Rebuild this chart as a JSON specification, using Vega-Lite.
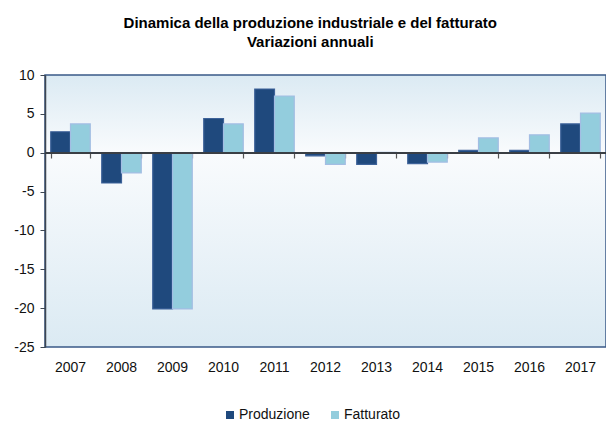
{
  "$schema": "https://vega.github.io/schema/vega-lite/v6.json",
  "width": 561,
  "height": 272,
  "autosize": {"type": "none"},
  "padding": {"left": 45, "top": 75, "right": 0, "bottom": 76},
  "background": "white",
  "title": {
    "text": ["Dinamica della produzione industriale e del fatturato", "Variazioni annuali"],
    "font": "Liberation Sans",
    "fontSize": 15,
    "fontWeight": "bold",
    "color": "#000000",
    "anchor": "middle",
    "frame": "bounds",
    "lineHeight": 19,
    "offset": 18
  },
  "config": {
    "font": "Liberation Sans",
    "axis": {"labelOverlap": false},
    "axisY": {"labelOverlap": false, "labelFlush": false},
    "view": {
      "stroke": "#3a5a88",
      "strokeWidth": 1.5,
      "fill": {
        "gradient": "linear",
        "x1": 0, "y1": 0, "x2": 0, "y2": 1,
        "stops": [
          {"offset": 0, "color": "#dbeaf3"},
          {"offset": 0.287, "color": "#f9fbfd"},
          {"offset": 1, "color": "#dbeaf3"}
        ]
      }
    }
  },
  "data": {
    "values": [
      {"anno": "2007", "serie": "Produzione", "valore": 2.7},
      {"anno": "2007", "serie": "Fatturato", "valore": 3.7},
      {"anno": "2008", "serie": "Produzione", "valore": -3.9},
      {"anno": "2008", "serie": "Fatturato", "valore": -2.6},
      {"anno": "2009", "serie": "Produzione", "valore": -20.1},
      {"anno": "2009", "serie": "Fatturato", "valore": -20.1},
      {"anno": "2010", "serie": "Produzione", "valore": 4.4},
      {"anno": "2010", "serie": "Fatturato", "valore": 3.7},
      {"anno": "2011", "serie": "Produzione", "valore": 8.2},
      {"anno": "2011", "serie": "Fatturato", "valore": 7.3},
      {"anno": "2012", "serie": "Produzione", "valore": -0.4},
      {"anno": "2012", "serie": "Fatturato", "valore": -1.5},
      {"anno": "2013", "serie": "Produzione", "valore": -1.5},
      {"anno": "2013", "serie": "Fatturato", "valore": 0.05},
      {"anno": "2014", "serie": "Produzione", "valore": -1.4},
      {"anno": "2014", "serie": "Fatturato", "valore": -1.2},
      {"anno": "2015", "serie": "Produzione", "valore": 0.3},
      {"anno": "2015", "serie": "Fatturato", "valore": 1.9},
      {"anno": "2016", "serie": "Produzione", "valore": 0.3},
      {"anno": "2016", "serie": "Fatturato", "valore": 2.3},
      {"anno": "2017", "serie": "Produzione", "valore": 3.7},
      {"anno": "2017", "serie": "Fatturato", "valore": 5.1}
    ]
  },
  "resolve": {"axis": {"x": "independent"}},
  "layer": [
    {
      "mark": {"type": "bar", "strokeWidth": 1.2},
      "encoding": {
        "x": {
          "field": "anno", "type": "ordinal",
          "scale": {"paddingInner": 0.225, "paddingOuter": 0.1125},
          "axis": {
            "title": null, "orient": "bottom", "domain": false, "ticks": false,
            "labelAngle": 0, "labelFontSize": 14, "labelColor": "#111111",
            "labelPadding": 13
          }
        },
        "xOffset": {"field": "serie", "type": "nominal", "sort": ["Produzione", "Fatturato"]},
        "y": {
          "field": "valore", "type": "quantitative",
          "scale": {"domain": [-25, 10], "nice": false},
          "axis": {
            "title": null, "values": [-25, -20, -15, -10, -5, 0, 5, 10],
            "labelExpr": "datum.value < 0 ? '-' + abs(datum.value) : '' + datum.value",
            "grid": false, "labelFontSize": 14, "labelColor": "#111111",
            "labelOverlap": false, "labelFlush": false,
            "domainColor": "#3d4652", "domainWidth": 1.5,
            "tickColor": "#3d4652", "tickSize": 5, "labelPadding": 6
          }
        },
        "color": {
          "field": "serie", "type": "nominal",
          "scale": {"domain": ["Produzione", "Fatturato"], "range": ["#1f497d", "#93cddd"]},
          "legend": {
            "title": null, "orient": "none", "legendX": 178, "legendY": 333,
            "direction": "horizontal",
            "symbolType": "square", "symbolSize": 64, "symbolStrokeWidth": 0,
            "labelFontSize": 14, "labelColor": "#111111",
            "columnPadding": 18, "labelOffset": 2
          }
        },
        "stroke": {
          "field": "serie", "type": "nominal",
          "scale": {"domain": ["Produzione", "Fatturato"], "range": ["#3d6299", "#a3bde3"]},
          "legend": null
        }
      }
    },
    {
      "mark": {"type": "rule", "color": "#3a3f45", "strokeWidth": 1.5},
      "encoding": {
        "y": {
          "datum": 0, "type": "quantitative",
          "axis": {
            "title": null, "values": [-25, -20, -15, -10, -5, 0, 5, 10],
            "labelExpr": "datum.value < 0 ? '-' + abs(datum.value) : '' + datum.value",
            "grid": false, "labelFontSize": 14, "labelColor": "#111111",
            "labelOverlap": false, "labelFlush": false,
            "domainColor": "#3d4652", "domainWidth": 1.5,
            "tickColor": "#3d4652", "tickSize": 5, "labelPadding": 6
          }
        }
      }
    },
    {
      "mark": {"type": "point", "opacity": 0},
      "encoding": {
        "x": {
          "field": "anno", "type": "ordinal",
          "axis": {
            "title": null, "orient": "bottom", "offset": -194, "labels": false,
            "domain": false, "ticks": true, "tickBand": "extent", "tickSize": 5,
            "tickColor": "#555555", "tickWidth": 1.2
          }
        }
      }
    }
  ]
}
